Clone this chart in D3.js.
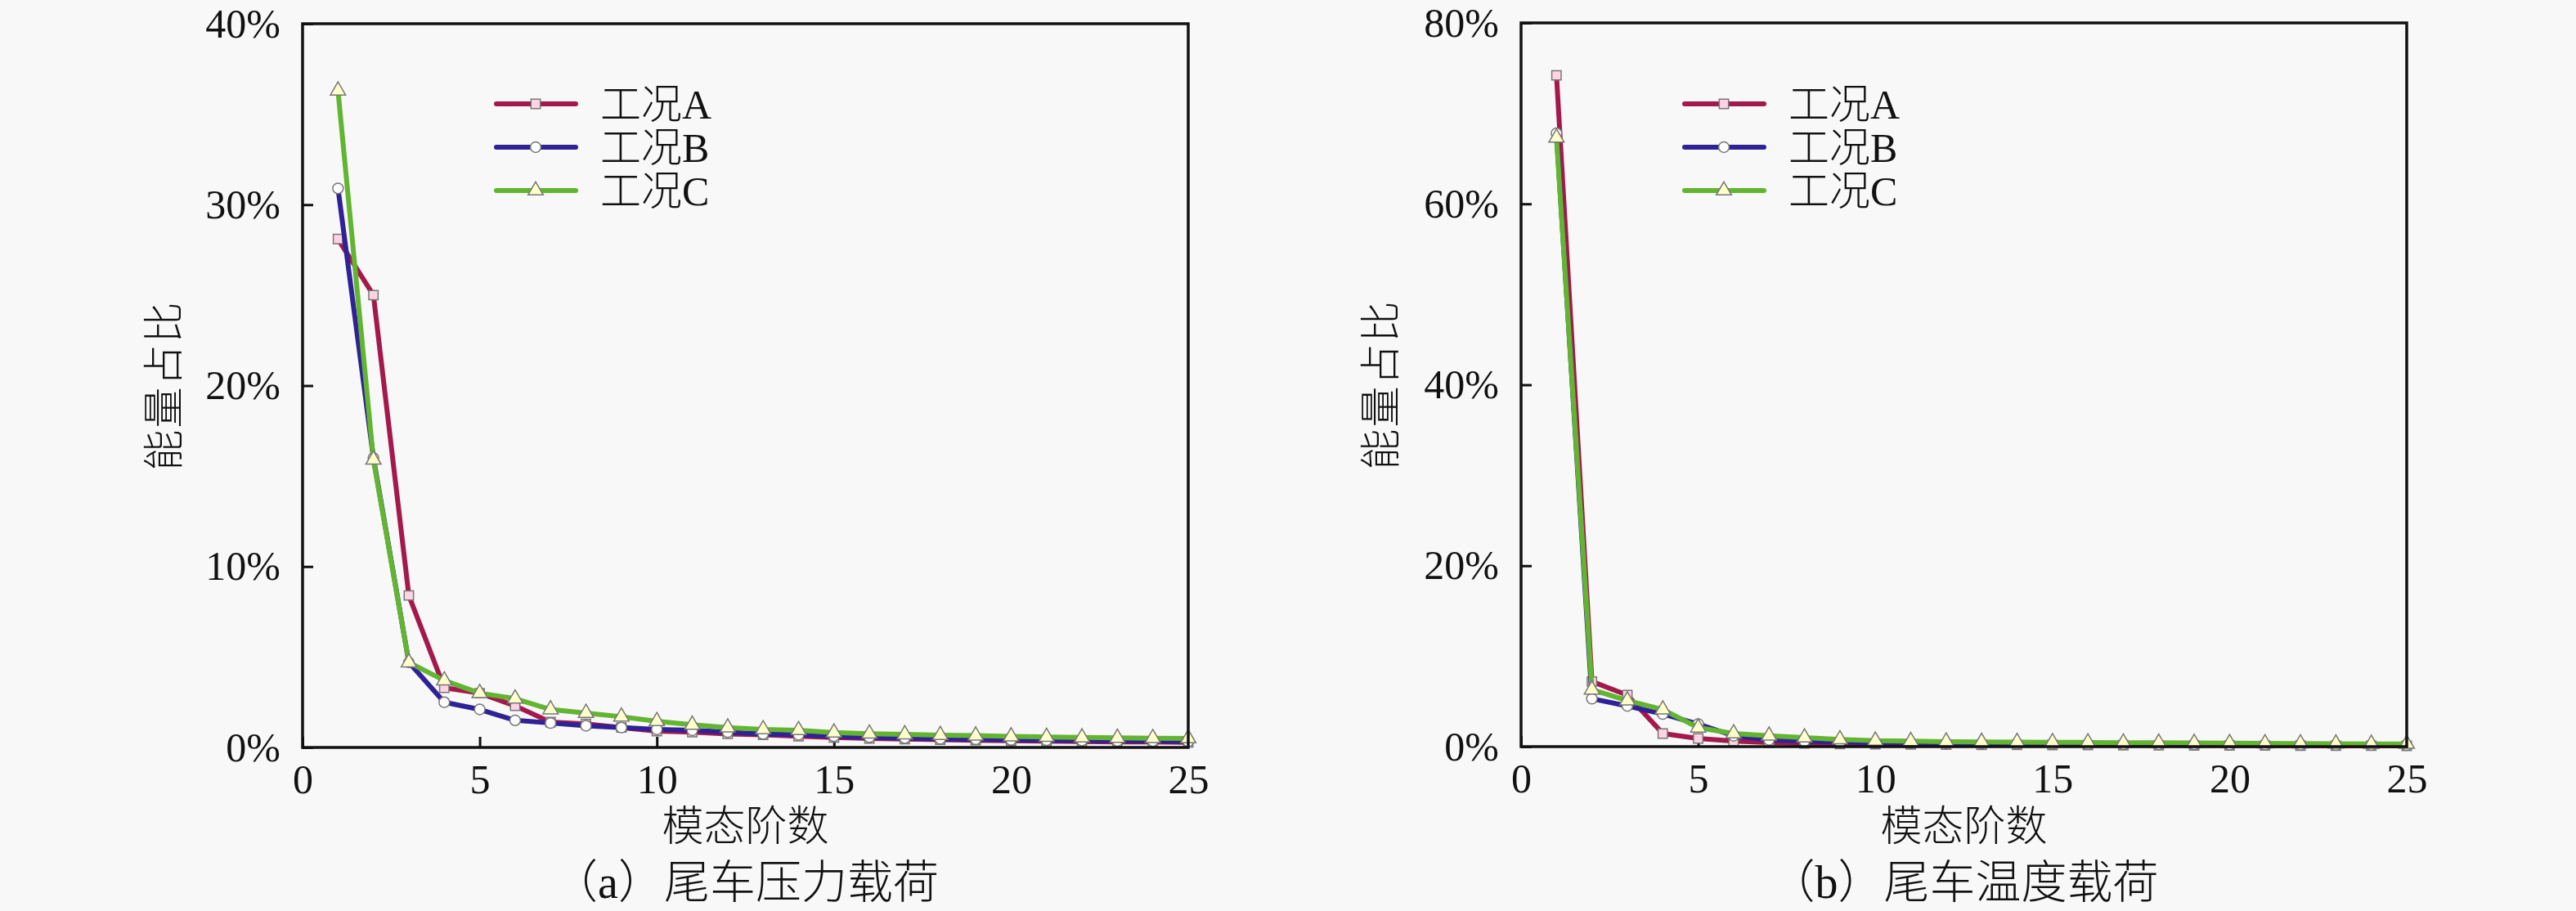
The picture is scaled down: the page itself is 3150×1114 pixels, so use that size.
<!DOCTYPE html>
<html>
<head>
<meta charset="utf-8">
<script src="https://cdn.jsdelivr.net/npm/d3@7"></script>
<style>
  body { margin: 0; background: #f8f8f8; }
</style>
</head>
<body>
<div id="chart"></div>
<script>
// mode order on the x axis
const modes = [1, 2, 3, 4, 5, 6, 7, 8, 9, 10, 11, 12, 13, 14, 15, 16, 17, 18, 19, 20, 21, 22, 23, 24, 25];

// (a) pressure load, energy share in %
const pressureA = [28.1, 25.0, 8.4, 3.3, 3.0, 2.3, 1.4, 1.3, 1.1, 0.9, 0.85, 0.75, 0.7, 0.62, 0.55, 0.5, 0.46, 0.43, 0.4, 0.37, 0.35, 0.33, 0.31, 0.3, 0.28];
const pressureB = [30.9, 16.0, 4.7, 2.5, 2.1, 1.5, 1.35, 1.2, 1.1, 1.0, 0.95, 0.85, 0.75, 0.7, 0.62, 0.57, 0.52, 0.48, 0.45, 0.42, 0.4, 0.38, 0.36, 0.35, 0.33];
const pressureC = [36.3, 15.9, 4.7, 3.7, 3.0, 2.7, 2.1, 1.9, 1.7, 1.45, 1.25, 1.1, 1.0, 0.95, 0.82, 0.76, 0.72, 0.68, 0.65, 0.61, 0.58, 0.55, 0.53, 0.51, 0.5];

// (b) temperature load, energy share in %
const tempA = [74.2, 7.2, 5.7, 1.45, 0.9, 0.6, 0.45, 0.35, 0.3, 0.27, 0.25, 0.22, 0.2, 0.19, 0.18, 0.17, 0.16, 0.15, 0.14, 0.13, 0.12, 0.11, 0.1, 0.1, 0.09];
const tempB = [67.8, 5.3, 4.5, 3.6, 2.5, 1.2, 0.75, 0.6, 0.5, 0.45, 0.4, 0.37, 0.34, 0.32, 0.3, 0.28, 0.26, 0.25, 0.24, 0.22, 0.21, 0.2, 0.19, 0.18, 0.17];
const tempC = [67.3, 6.3, 5.1, 4.1, 2.1, 1.45, 1.2, 1.0, 0.8, 0.65, 0.6, 0.55, 0.52, 0.5, 0.48, 0.46, 0.44, 0.42, 0.4, 0.38, 0.36, 0.34, 0.32, 0.3, 0.3];

const seriesNames = ["工况A", "工况B", "工况C"];
const xTicks = [0, 5, 10, 15, 20, 25];
const pressureTicks = [0, 10, 20, 30, 40];
const tempTicks = [0, 20, 40, 60, 80];
const xTitle = "模态阶数";
const yTitle = "能量占比";
const captions = ["（a）尾车压力载荷", "（b）尾车温度载荷"];

const width = 3150;
const height = 1114;
const fontStack = '"Liberation Serif", "Noto Sans CJK SC", serif';

const svg = d3.select("#chart")
  .append("svg")
  .attr("width", width)
  .attr("height", height);

svg.append("rect")
  .attr("width", width)
  .attr("height", height)
  .attr("fill", "#f8f8f8");

// line / marker style per series
const lineColors = ["#a3194b", "#2f2196", "#62b530"];
const markerFills = ["#ffd3e3", "#ffffff", "#ffffcc"];
const markerShapes = [d3.symbolSquare, d3.symbolCircle, d3.symbolTriangle];

function styleText(sel, size) {
  sel.style("font-family", fontStack)
    .style("font-size", size + "px")
    .style("font-weight", 300)
    .style("fill", "#111");
}

function drawPanel(opts) {
  const g = svg.append("g");
  const x = d3.scaleLinear().domain([0, 25]).range([opts.left, opts.right]);
  const y = d3.scaleLinear().domain([0, opts.yMax]).range([opts.bottom, opts.top]);

  // x axis, ticks pointing inward
  const xAxis = g.append("g")
    .attr("transform", `translate(0,${opts.bottom})`)
    .call(d3.axisBottom(x).tickValues(xTicks).tickSize(-13).tickPadding(20));
  xAxis.select(".domain").remove();
  xAxis.selectAll("line").attr("stroke", "#111").attr("stroke-width", 3);
  styleText(xAxis.selectAll("text"), 50);

  const yAxis = g.append("g")
    .attr("transform", `translate(${opts.left},0)`)
    .call(d3.axisLeft(y).tickValues(opts.yTicks).tickSize(-13).tickPadding(27).tickFormat(d => d + "%"));
  yAxis.select(".domain").remove();
  yAxis.selectAll("line").attr("stroke", "#111").attr("stroke-width", 3);
  styleText(yAxis.selectAll("text"), 50);

  // series
  const line = d3.line()
    .x((d, i) => x(modes[i]))
    .y(d => y(d));

  opts.series.forEach((vals, k) => {
    g.append("path")
      .datum(vals)
      .attr("d", line)
      .attr("fill", "none")
      .attr("stroke", lineColors[k])
      .attr("stroke-width", 6)
      .attr("stroke-linejoin", "round");
    g.selectAll(null)
      .data(vals)
      .enter().append("path")
      .attr("transform", (d, i) => `translate(${x(modes[i])},${y(d)})`)
      .attr("d", d3.symbol().type(markerShapes[k]).size(k === 2 ? 150 : 130))
      .attr("fill", markerFills[k])
      .attr("stroke", "#777")
      .attr("stroke-width", 1.5);
  });

  // frame
  g.append("rect")
    .attr("x", opts.left)
    .attr("y", opts.top)
    .attr("width", opts.right - opts.left)
    .attr("height", opts.bottom - opts.top)
    .attr("fill", "none")
    .attr("stroke", "#111")
    .attr("stroke-width", 3.5);

  // legend
  const legend = g.append("g");
  seriesNames.forEach((name, k) => {
    const ly = 127 + k * 53;
    legend.append("line")
      .attr("x1", opts.legendX)
      .attr("x2", opts.legendX + 97)
      .attr("y1", ly)
      .attr("y2", ly)
      .attr("stroke", lineColors[k])
      .attr("stroke-width", 6)
      .attr("stroke-linecap", "round");
    legend.append("path")
      .attr("transform", `translate(${opts.legendX + 48},${ly})`)
      .attr("d", d3.symbol().type(markerShapes[k]).size(k === 2 ? 150 : 130))
      .attr("fill", markerFills[k])
      .attr("stroke", "#777")
      .attr("stroke-width", 1.5);
    legend.append("text")
      .attr("x", opts.legendX + 127)
      .attr("y", ly)
      .attr("dy", "0.36em")
      .text(name)
      .call(styleText, 50);
  });

  const cx = (opts.left + opts.right) / 2;

  // axis titles
  g.append("text")
    .attr("x", cx)
    .attr("y", 1010)
    .attr("dy", "0.36em")
    .attr("text-anchor", "middle")
    .text(xTitle)
    .call(styleText, 51);

  g.append("text")
    .attr("transform", `translate(${opts.yTitleX},${(opts.top + opts.bottom) / 2}) rotate(-90)`)
    .attr("dy", "0.36em")
    .attr("text-anchor", "middle")
    .attr("letter-spacing", 2)
    .text(yTitle)
    .call(styleText, 50);

  // caption under the panel
  g.append("text")
    .attr("x", cx)
    .attr("y", 1078)
    .attr("dy", "0.36em")
    .attr("text-anchor", "middle")
    .text(opts.caption)
    .call(styleText, 56);
}

drawPanel({
  left: 370, right: 1453, top: 29, bottom: 914,
  yMax: 40, yTicks: pressureTicks,
  series: [pressureA, pressureB, pressureC],
  legendX: 607, yTitleX: 200,
  caption: captions[0]
});

drawPanel({
  left: 1860, right: 2943, top: 28, bottom: 913,
  yMax: 80, yTicks: tempTicks,
  series: [tempA, tempB, tempC],
  legendX: 2060, yTitleX: 1688,
  caption: captions[1]
});
</script>
</body>
</html>
